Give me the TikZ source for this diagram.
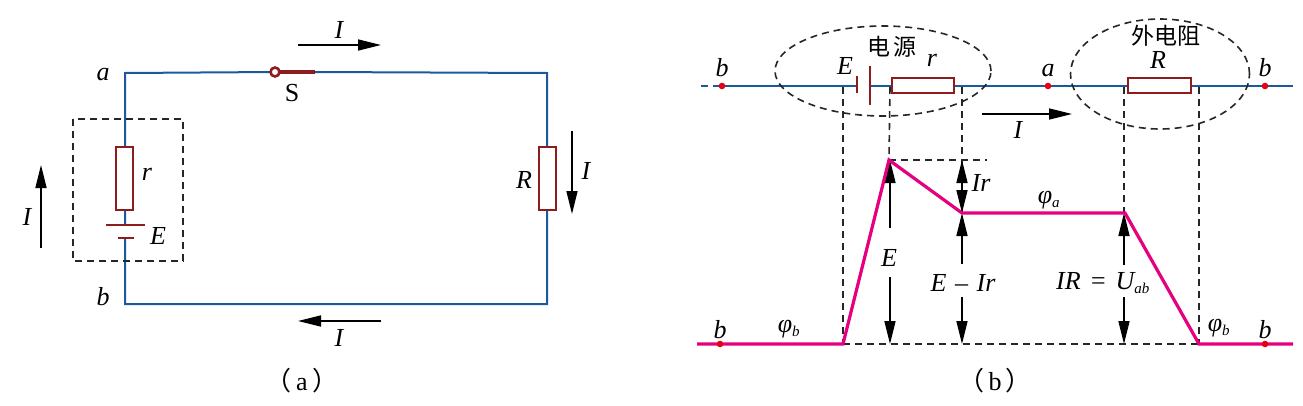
\documentclass[tikz,border=0pt]{standalone}
\usepackage{fontspec}
\setmainfont{Liberation Serif}
\newfontfamily\cjk{Noto Sans CJK SC}
\usetikzlibrary{arrows.meta}
\definecolor{wireblue}{HTML}{1A5A9C}
\definecolor{partred}{HTML}{8E1C1C}
\definecolor{potpink}{HTML}{E5007F}
\definecolor{dotred}{HTML}{E60012}
\tikzset{
    wire/.style={wireblue, line width=2pt},
    part/.style={partred, line width=1.9pt},
    resistor/.style={part, fill=white},
    guide/.style={black!85, line width=1.6pt, dash pattern=on 7pt off 5pt},
    current/.style={black, line width=1.5pt, -{Triangle[length=23pt,width=11pt]}},
    measure/.style={black, line width=1.5pt, {Triangle[length=23pt,width=11pt]}-{Triangle[length=23pt,width=11pt]}},
    potential/.style={potpink, line width=3.2pt, line join=miter},
    tag/.style={font=\fontsize{26}{26}\selectfont\itshape, inner sep=0pt},
    caption/.style={font=\fontsize{26}{26}\selectfont, inner sep=0pt},
    cjktag/.style={font=\fontsize{23}{23}\selectfont\cjk, inner sep=0pt}
}
\newcommand{\subtag}[2]{#1\textsubscript{\fontsize{15}{15}\selectfont #2}}
\begin{document}
\begin{tikzpicture}[x=1pt,y=-1pt]
    \useasboundingbox (0,0) rectangle (1303,405);

    % (a)
    \coordinate (A) at (125,73);
    \coordinate (B) at (125,304);
    \coordinate (RT) at (547,73);
    \coordinate (RB) at (547,304);
    \coordinate (SL) at (275,72);
    \coordinate (SR) at (315,72);

    \draw[wire] (SR) -- (RT) -- (RB) -- (B) -- (A) -- (SL);
    \draw[guide] (73,119) rectangle (183,261);
    \draw[resistor] (116,147) rectangle (133,210);
    \draw[resistor] (539,147) rectangle (556,210);
    \fill[white] (106,226) rectangle (145,238);
    \draw[part] (106,225) -- (145,225);
    \draw[part] (118,238) -- (134,238);
    \draw[partred, line width=3.2pt] (SL) -- (SR);
    \draw[partred, line width=2.6pt, fill=white] (SL) circle (4.5pt);

    \node[tag] (a1) at (103,75) {a};
    \node[tag] (b1) at (103,297) {b};
    \node[tag] (r1) at (147,174) {r};
    \node[tag] (E1) at (158,236) {E};
    \node[tag] (R1) at (524,180) {R};
    \node[caption] (S1) at (292,93) {S};
    \node[tag] (I1) at (339,30) {I};
    \node[tag] (I2) at (586,171) {I};
    \node[tag] (I3) at (27,217) {I};
    \node[tag] (I4) at (339,338) {I};
    \node[caption] (capa) at (302,381) {{\cjk （}\,a\,{\cjk ）}};

    \draw[current] (298,45) -- (381,45);
    \draw[current] (572,131) -- (572,214);
    \draw[current] (41,248) -- (41,165);
    \draw[current] (381,321) -- (298,321);

    % (b)
    \coordinate (W0) at (701,86);
    \coordinate (W1) at (718,86);
    \coordinate (W2) at (1293,86);
    \coordinate [label={[tag,yshift=9pt]90:b}] (Pb) at (722,86);
    \coordinate [label={[tag,yshift=9pt]90:a}] (Pa) at (1048,86);
    \coordinate [label={[tag,yshift=9pt]90:b}] (Pc) at (1265,86);
    \coordinate [label={[tag,yshift=5pt]90:b}] (Qb) at (720,344);
    \coordinate [label={[tag,yshift=5pt]90:b}] (Qc) at (1265,344);

    \coordinate (F0) at (697,344);
    \coordinate (F1) at (843,344);
    \coordinate (F2) at (889,160);
    \coordinate (F3) at (962,213);
    \coordinate (F4) at (1125,213);
    \coordinate (F5) at (1199,344);
    \coordinate (F6) at (1293,344);

    \draw[wireblue, line width=2pt, dash pattern=on 7pt off 5pt] (W0) -- (W1);
    \draw[wire] (W1) -- (W2);
    \draw[guide] (883,71) ellipse (108pt and 45pt);
    \draw[guide] (1160,74) ellipse (89.5pt and 55pt);

    \fill[white] (858,80) rectangle (869,91);
    \draw[part] (857,76) -- (857,93);
    \draw[part] (870,66) -- (870,105);
    \draw[resistor] (892,78) rectangle (954,93);
    \draw[resistor] (1128,78) rectangle (1191,93);

    \draw[guide] (843,87) -- (F1);
    \draw[guide] (890,87) -- (F2);
    \draw[guide] (962,87) -- (F3);
    \draw[guide] (1124,87) -- (1124,213);
    \draw[guide] (1199,87) -- (F5);
    \draw[guide] (F2) -- (987,160);
    \draw[guide] (F1) -- (F5);

    \node[tag] (E3) at (889,258) {E};
    \node[tag] (E4) at (963,283) {E\,\,\textendash\,\,Ir};
    \node[tag] (E5) at (1103,283) {IR\,\,=\,\,\subtag{U}{ab}};
    \coordinate (E5t) at (1124,265);
    \coordinate (E5b) at (1124,297);

    \draw[current] (890,228) -- (890,160);
    \draw[current] (890,277) -- (890,344);
    \draw[current] (962,264) -- (F3);
    \draw[current] (962,297) -- (962,344);
    \draw[current] (E5t) -- (1124,213);
    \draw[current] (E5b) -- (1124,344);
    \draw[measure] (962,160) -- (962,213);

    \draw[potential] (F0) -- (F1) -- (F2) -- (F3) -- (F4) -- (F5) -- (F6);
    \draw[current] (982,114) -- (1072,114);

    \foreach \p in {Pb,Pa,Pc,Qb,Qc} {
        \fill[dotred] (\p) circle (3.3pt);
    }

    \node[tag] (E2) at (845,66) {E};
    \node[tag] (r2) at (932,60) {r};
    \node[tag] (R2) at (1158,60) {R};
    \node[cjktag] (src) at (892,47) {电\,源};
    \node[cjktag] (ext) at (1166,36) {外电阻};
    \node[tag] (I5) at (1018,130) {I};
    \node[tag] (Ir) at (981,183) {Ir};
    \node[tag] (pa) at (1049,200) {\subtag{φ}{a}};
    \node[tag] (pb) at (789,329) {\subtag{φ}{b}};
    \node[tag] (pc) at (1219,328) {\subtag{φ}{b}};
    \node[caption] (capb) at (995,381) {{\cjk （}\,b\,{\cjk ）}};
\end{tikzpicture}
\end{document}
